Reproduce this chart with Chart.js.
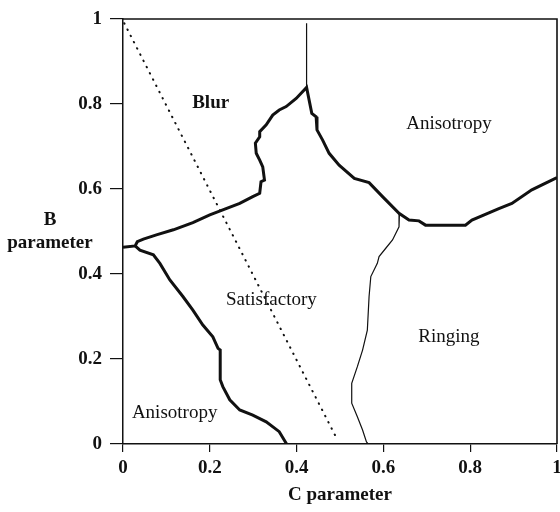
<!DOCTYPE html>
<html>
<head>
    <title>B / C parameter regions</title>
    <script src="https://cdn.jsdelivr.net/npm/chart.js"></script>
    <style>
        html, body { margin: 0; padding: 0; background: #fff; }
        #wrap { width: 560px; height: 512px; }
    </style>
</head>
<body>
    <div id="wrap">
        <canvas id="chart" width="560" height="512"></canvas>
    </div>

    <script>
        // axis ticks
        const tickValues = [0, 0.2, 0.4, 0.6, 0.8, 1];

        // upper thick boundary (Blur / Anisotropy / Satisfactory)
        const upperC = [0, 0.028, 0.033, 0.047, 0.077, 0.116, 0.161, 0.200, 0.230, 0.269, 0.299, 0.315, 0.318, 0.326, 0.322, 0.315, 0.307, 0.305, 0.315, 0.315, 0.330, 0.345, 0.360, 0.376, 0.399, 0.423, 0.435, 0.445, 0.447, 0.460, 0.475, 0.498, 0.533, 0.567, 0.598, 0.636, 0.659, 0.682, 0.697, 0.789, 0.804, 0.866, 0.896, 0.942, 0.988, 1.0];
        const upperB = [0.463, 0.466, 0.476, 0.482, 0.492, 0.504, 0.521, 0.539, 0.551, 0.566, 0.582, 0.590, 0.617, 0.621, 0.652, 0.668, 0.684, 0.708, 0.723, 0.735, 0.751, 0.774, 0.786, 0.794, 0.813, 0.839, 0.778, 0.770, 0.739, 0.715, 0.684, 0.656, 0.625, 0.615, 0.582, 0.543, 0.527, 0.525, 0.515, 0.515, 0.527, 0.554, 0.566, 0.598, 0.621, 0.627];

        // lower-left thick boundary (Satisfactory / Anisotropy)
        const lowerC = [0.028, 0.039, 0.070, 0.085, 0.108, 0.138, 0.161, 0.184, 0.207, 0.219, 0.224, 0.224, 0.230, 0.246, 0.269, 0.299, 0.330, 0.360, 0.377];
        const lowerB = [0.466, 0.456, 0.445, 0.425, 0.386, 0.347, 0.315, 0.280, 0.252, 0.225, 0.221, 0.151, 0.135, 0.104, 0.080, 0.068, 0.052, 0.029, 0];

        // thin boundary (Satisfactory / Ringing)
        const ringC = [0.637, 0.636, 0.621, 0.605, 0.590, 0.586, 0.571, 0.567, 0.563, 0.552, 0.540, 0.527, 0.527, 0.540, 0.552, 0.561, 0.565];
        const ringB = [0.543, 0.511, 0.480, 0.460, 0.441, 0.425, 0.394, 0.347, 0.268, 0.221, 0.182, 0.143, 0.096, 0.064, 0.033, 0.005, 0];

        // thin vertical (Blur / Anisotropy)
        const vertC = [0.423, 0.423];
        const vertB = [0.99, 0.839];

        // dotted line B + 2C = 1
        const dotC = [0.003, 0.494];
        const dotB = [0.99, 0.01];

        // region names
        const regionNames = ['Blur', 'Anisotropy', 'Satisfactory', 'Ringing', 'Anisotropy'];
        const regionC = [0.202, 0.751, 0.342, 0.751, 0.119];
        const regionB = [0.802, 0.753, 0.339, 0.252, 0.072];

        const pts = (cs, bs) => cs.map((c, i) => ({ x: c, y: bs[i] }));
        const FONT = '"Liberation Serif", "Times New Roman", serif';

        const line = (data, width, dash) => ({
            data: data,
            showLine: true,
            borderColor: '#111',
            borderWidth: width,
            borderDash: dash || [],
            borderCapStyle: dash ? 'round' : 'butt',
            pointRadius: 0,
            tension: 0,
            fill: false
        });

        // frame, y title and region names
        const extras = {
            id: 'extras',
            afterDraw(chart) {
                const ctx = chart.ctx;
                const a = chart.chartArea;
                const sx = chart.scales.x, sy = chart.scales.y;
                ctx.save();
                ctx.strokeStyle = '#111';
                ctx.lineWidth = 1.6;
                ctx.beginPath();
                ctx.moveTo(a.left, a.top);
                ctx.lineTo(a.right, a.top);
                ctx.lineTo(a.right, a.bottom);
                ctx.stroke();

                ctx.fillStyle = '#111';
                ctx.textAlign = 'center';
                ctx.textBaseline = 'middle';
                ctx.font = 'bold 19px ' + FONT;
                ctx.fillText('B', 50, 220);
                ctx.fillText('parameter', 50, 243);

                regionNames.forEach((name, i) => {
                    ctx.font = (name === 'Blur' ? 'bold ' : '') + '19px ' + FONT;
                    ctx.fillText(name, sx.getPixelForValue(regionC[i]), sy.getPixelForValue(regionB[i]));
                });
                ctx.restore();
            }
        };

        const tickCfg = {
            font: { family: FONT, size: 19, weight: 'bold' },
            color: '#111',
            autoSkip: false
        };

        new Chart(document.getElementById('chart').getContext('2d'), {
            type: 'scatter',
            data: {
                datasets: [
                    line(pts(upperC, upperB), 3),
                    line(pts(lowerC, lowerB), 3),
                    line(pts(ringC, ringB), 1.2),
                    line(pts(vertC, vertB), 1.2),
                    line(pts(dotC, dotB), 2, [0.5, 6.5])
                ]
            },
            options: {
                responsive: false,
                animation: false,
                layout: { padding: { top: 19, right: 3, left: 0, bottom: 0 } },
                plugins: { legend: { display: false }, tooltip: { enabled: false } },
                scales: {
                    x: {
                        type: 'linear',
                        min: 0,
                        max: 1,
                        afterBuildTicks: s => { s.ticks = tickValues.map(v => ({ value: v })); },
                        afterFit: s => { s.height = 68; s.paddingLeft = 0; s.paddingRight = 0; },
                        ticks: Object.assign({}, tickCfg, { padding: 5, maxRotation: 0, callback: v => String(v) }),
                        grid: { drawOnChartArea: false, drawTicks: true, tickLength: 8, color: '#111', lineWidth: 1.2 },
                        border: { display: true, color: '#111', width: 1.5 },
                        title: {
                            display: true,
                            text: 'C parameter',
                            color: '#111',
                            font: { family: FONT, size: 19, weight: 'bold' },
                            padding: { top: 1, bottom: 6 }
                        }
                    },
                    y: {
                        type: 'linear',
                        min: 0,
                        max: 1,
                        afterBuildTicks: s => { s.ticks = tickValues.map(v => ({ value: v })); },
                        afterFit: s => { s.width = 123; s.paddingTop = 0; s.paddingBottom = 0; },
                        ticks: Object.assign({}, tickCfg, { padding: 8, callback: v => String(v) }),
                        grid: { drawOnChartArea: false, drawTicks: true, tickLength: 13, color: '#111', lineWidth: 1.2 },
                        border: { display: true, color: '#111', width: 1.5 }
                    }
                }
            },
            plugins: [extras]
        });
    </script>
</body>
</html>
